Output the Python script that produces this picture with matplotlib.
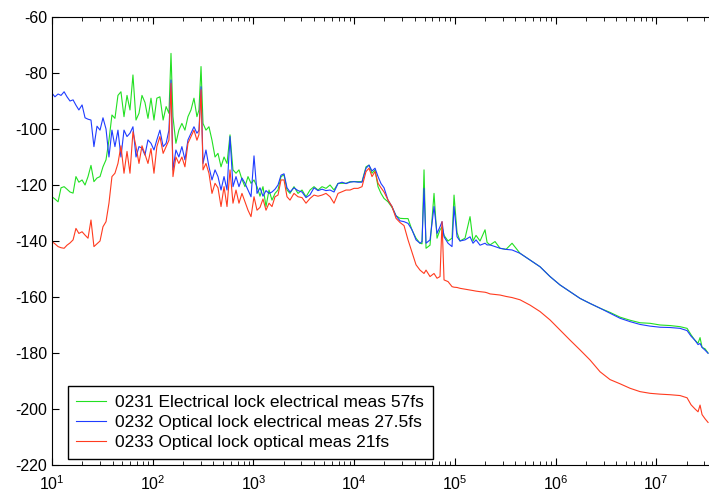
import matplotlib
matplotlib.use('Agg')
import matplotlib.pyplot as plt
from matplotlib.ticker import LogLocator, FixedLocator, NullFormatter

plt.rcParams['font.family'] = ['Liberation Sans', 'DejaVu Sans']
plt.rcParams['axes.unicode_minus'] = False
plt.rcParams['mathtext.fontset'] = 'custom'
plt.rcParams['mathtext.rm'] = 'Liberation Sans'
plt.rcParams['mathtext.it'] = 'Liberation Sans:italic'
plt.rcParams['mathtext.bf'] = 'Liberation Sans:bold'

# offset frequency (Hz), shared by all three traces
freq = [10.0, 10.7, 11.5, 12.3, 13.2, 14.1, 15.1, 16.2, 17.3, 18.5,
        19.9, 21.3, 22.8, 24.4, 26.1, 28.0, 30.0, 32.1, 34.4, 36.8,
        39.4, 42.2, 45.2, 48.4, 51.9, 55.6, 59.5, 63.7, 68.3, 73.1,
        78.3, 83.8, 89.8, 96.2, 103, 110, 118, 127, 136, 145,
        152, 159, 170, 182, 195, 209, 224, 240, 257, 275,
        288, 302, 316, 338, 362, 388, 416, 445, 477, 511,
        547, 586, 627, 672, 719, 770, 825, 884, 947, 1014,
        1086, 1163, 1245, 1334, 1429, 1530, 1639, 1755, 1880, 2013,
        2156, 2309, 2530, 2773, 3038, 3330, 3648, 3998, 4381, 4801,
        5260, 5765, 6317, 6922, 7585, 8311, 9106, 9977, 10930, 11980,
        13130, 14060, 15060, 16130, 17280, 18500, 19820, 21710, 23790, 26070,
        28570, 31300, 34300, 37580, 41190, 45120, 47240, 49450, 51760, 56730,
        62150, 66570, 71290, 74650, 78140, 85630, 93800, 98200, 105200, 112600,
        126300, 141600, 151600, 162400, 178000, 199500, 209000, 223700, 250700, 281200,
        322500, 370000, 444200, 558300, 701800, 882000, 1.108e6, 1.393e6, 1.751e6, 2.201e6,
        2.766e6, 3.477e6, 4.371e6, 5.493e6, 6.905e6, 8.678e6, 1.091e7, 1.371e7, 1.723e7, 2.023e7,
        2.216e7, 2.428e7, 2.600e7, 2.722e7, 2.850e7, 3.052e7, 3.269e7]

# phase noise, dBc/Hz
meas_0231 = [-124.2, -125, -126, -121, -120.6, -121.5, -122.5, -122.9, -117, -119,
             -118.2, -120, -117, -113, -118.8, -117.5, -117, -113.5, -111, -104,
             -95, -96.2, -88, -86.7, -95.6, -88, -93.2, -80.7, -96.8, -94.4,
             -88, -90.5, -96.2, -89, -96.8, -89, -88.5, -96.8, -92, -94.4,
             -73, -95.6, -105.1, -100.4, -98, -100.4, -95.6, -93.2, -89, -95.6,
             -93.2, -77.7, -98, -100.4, -99.2, -104, -110, -108.7, -113.5, -110,
             -112.3, -102.1, -114.6, -115.8, -114.6, -118, -120.6, -117, -119.4, -118.2,
             -120.6, -124, -120.6, -127.7, -121.8, -125.4, -123, -121.8, -117, -116.4,
             -121.8, -123, -120.6, -123, -121.8, -124.2, -121.8, -120.6, -121.8, -120.6,
             -121.2, -120, -121.8, -119.4, -119.4, -119.4, -118.8, -118.8, -118.8, -118.8,
             -113.5, -112.9, -115.8, -114.6, -120.6, -123, -124.8, -126, -128, -131,
             -131.9, -132, -132, -136.1, -139, -140.8, -141, -114.6, -142.6, -141.5,
             -123, -139, -136, -135, -138, -140, -139, -123.6, -137, -140,
             -139, -131.3, -140, -138, -140, -136, -140.5, -141.4, -140.2, -142.6,
             -143, -140.8, -144.4, -146.8, -149.2, -152.7, -155.7, -158.1, -160.5, -162.3,
             -164, -165.5, -167.2, -168.3, -169.2, -169.4, -170, -170.2, -170.6, -171.2,
             -173.5, -175.5, -176.5, -174.5, -178, -178.5, -180]

meas_0232 = [-87.2, -88.5, -87.5, -88, -86.7, -88.5, -90, -89.6, -91.5, -93.2,
             -91.4, -96, -96.5, -96.8, -106.3, -99, -100.4, -96, -100, -110,
             -100.4, -106.3, -100.4, -110, -100.4, -102.7, -101.5, -99.2, -110, -106.3,
             -106.8, -109.3, -103.9, -105.1, -107.5, -103.9, -100.4, -106.3, -105.1, -100.4,
             -82.5, -114.6, -107.5, -110, -106.3, -111, -103.9, -101.5, -99.2, -101.5,
             -100.5, -84.9, -112.3, -107.5, -113.5, -118.2, -114.6, -117, -121.8, -117,
             -121.8, -102.7, -120.6, -117, -120.6, -117.5, -119.4, -121.8, -124.2, -109.6,
             -123, -121, -124, -122, -123, -122.5, -121.5, -120, -116.5, -116,
             -121, -122.5, -121, -122, -122.5, -124.5, -123.5, -121, -122, -121.5,
             -122, -121.8, -122.5, -119.5, -119, -119.5, -119, -118.8, -119, -119,
             -114, -112.9, -115, -114, -117, -119.5, -121, -125.4, -127.7, -131,
             -132.8, -133.1, -133.7, -136, -139.6, -140.8, -140.2, -121.2, -140.8, -139.6,
             -127.7, -137.3, -134.9, -133.1, -138.5, -140.8, -142, -127.7, -138.5, -140,
             -139.6, -138.5, -140.8, -139.6, -141.5, -140.8, -141.4, -141.4, -142, -142.6,
             -143, -143.2, -144.4, -146.8, -149.2, -152.7, -155.7, -158.1, -160.5, -162.3,
             -164, -165.8, -167.6, -168.8, -169.8, -170.4, -170.8, -170.9, -171.2, -172,
             -174, -175.5, -177, -176.6, -178, -179, -180.1]

meas_0233 = [-140.2, -141, -142, -142.4, -142.6, -141.5, -140.7, -139.6, -135.5, -137.3,
             -136.7, -137.9, -139, -132.5, -142, -141, -140, -134.9, -133.1, -126.5,
             -117, -115.8, -112.3, -106, -115.8, -108, -115.8, -101, -106.3, -112.3,
             -106, -109, -112.3, -107, -115.8, -106.3, -102.7, -108.7, -106.3, -104,
             -83.7, -117, -110, -112.3, -110, -113.5, -105.1, -102.7, -100.4, -104,
             -102, -86, -114.6, -112.3, -115.8, -123, -119.4, -121, -127.7, -120.6,
             -127.7, -114.6, -126.5, -121.8, -126.5, -123, -126, -129, -131.3, -124.2,
             -129, -128, -125, -129, -126.5, -127.7, -124.2, -123.6, -118.2, -118.2,
             -124.2, -125.4, -123, -124.2, -124.5, -126.5, -124.8, -123.6, -124, -123.6,
             -123, -124.2, -126.5, -123, -122.4, -121.8, -121.8, -121.2, -121.2, -120.6,
             -115.2, -114, -117, -115.2, -119.4, -121, -122.5, -125.4, -127.7, -131.9,
             -133.4, -134.5, -139.6, -144, -148.5, -150.4, -151, -151.6, -150.4, -152.7,
             -151.6, -153.3, -152.7, -133.1, -153.9, -154.5, -156.3, -156.5, -156.6, -156.9,
             -157.2, -157.5, -157.7, -157.9, -158.1, -158.3, -158.5, -158.9, -159.1, -159.3,
             -159.8, -160.2, -161, -162.9, -165.2, -168.2, -171.8, -175.4, -178.9, -182.5,
             -186.7, -189.5, -191, -192.6, -193.8, -194.4, -194.7, -194.9, -195.2, -196,
             -198.5, -200, -201, -198.6, -202, -203.5, -204.8]

labels = ['0231 Electrical lock electrical meas 57fs',
          '0232 Optical lock electrical meas 27.5fs',
          '0233 Optical lock optical meas 21fs']
colors = ['#22e022', '#1f3cff', '#ff3b1f']

fig = plt.figure(figsize=(7.09, 4.97), dpi=100)
ax = fig.add_axes([0.0733, 0.0644, 0.9267, 0.9014])

for y, lab, c in zip([meas_0231, meas_0232, meas_0233], labels, colors):
    ax.plot(freq, y, color=c, lw=0.8, label=lab)

ax.set_xscale('log')
ax.set_xlim(10, 3.34e7)
ax.set_ylim(-220, -60)
ax.yaxis.set_major_locator(FixedLocator(list(range(-220, -59, 20))))
ax.xaxis.set_major_locator(LogLocator(base=10, numticks=20))
ax.xaxis.set_minor_locator(LogLocator(base=10, subs=range(2, 10), numticks=20))
ax.xaxis.set_minor_formatter(NullFormatter())

ax.spines['right'].set_visible(False)
ax.tick_params(axis='both', which='both', direction='in', top=True, right=False,
               labelsize=11.5, colors='black')
ax.tick_params(axis='x', which='major', pad=7)
ax.tick_params(which='major', length=5)
ax.tick_params(which='minor', length=3)

leg = ax.legend(loc='lower left', bbox_to_anchor=(0.024, 0.0134), borderaxespad=0,
                fancybox=False, edgecolor='black', framealpha=1, fontsize=12.5,
                handlelength=1.7, handletextpad=0.55, borderpad=0.5,
                labelspacing=0.3)
leg.get_frame().set_linewidth(1.0)

fig.savefig('out.png', dpi=100)
